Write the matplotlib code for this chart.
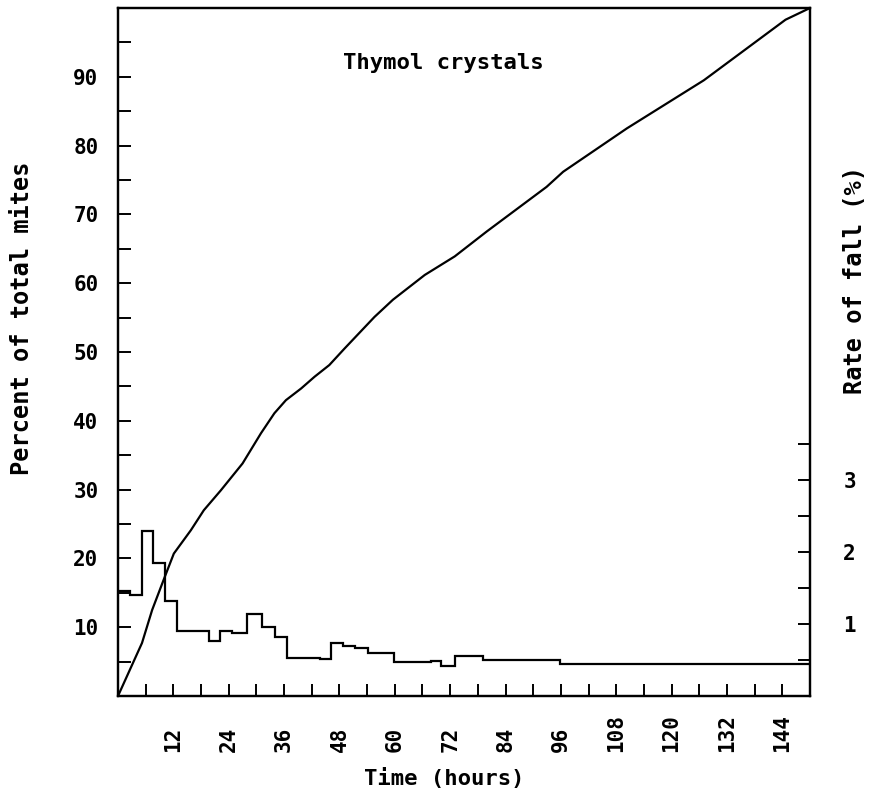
import matplotlib
matplotlib.use("Agg")
import matplotlib.pyplot as plt
import matplotlib.transforms as mtransforms
import numpy as np

# cumulative fall (percent of total mites)
cum_hours = [0, 5.2, 7.4, 9.9, 12.1, 15.8, 18.6, 22.3, 27.0, 31.0, 33.9, 36.4,
             39.7, 42.6, 45.8, 49.1, 55.6, 59.6, 66.5, 73.0, 79.9, 92.9, 96.5,
             110.3, 127.0, 144.7, 150]
cum_pct = [0, 7.7, 12.5, 16.9, 20.7, 24.1, 27.0, 29.9, 33.8, 38.2, 41.1, 43.0,
           44.7, 46.4, 48.1, 50.5, 55.1, 57.6, 61.2, 63.9, 67.5, 74.0, 76.2,
           82.5, 89.5, 98.3, 100]

# rate of fall (%), step function between sampling times
rate_edges = [0, 2.7, 5.2, 7.6, 10.1, 12.7, 19.7, 22.1, 24.7, 28.0, 31.3, 34.1,
              36.7, 43.7, 46.2, 48.7, 51.3, 54.1, 59.9, 67.9, 70.1, 73.0, 79.1,
              95.8, 150]
rate_vals = [1.46, 1.40, 2.29, 1.84, 1.32, 0.90, 0.76, 0.90, 0.875, 1.14, 0.96,
             0.82, 0.53, 0.51, 0.73, 0.70, 0.67, 0.60, 0.47, 0.49, 0.41, 0.56,
             0.50, 0.44]

x_labels = [12, 24, 36, 48, 60, 72, 84, 96, 108, 120, 132, 144]
left_labels = [10, 20, 30, 40, 50, 60, 70, 80, 90]
right_labels = [1, 2, 3]

font = "DejaVu Sans Mono"
fs = 15

fig = plt.figure(figsize=(8.75, 7.91), dpi=100)
ax = fig.add_axes([118 / 875, 1 - 696 / 791, 692 / 875, 688 / 791])
ax.set_xlim(0, 150)
ax.set_ylim(0, 100)

ax.plot(cum_hours, cum_pct, color="black", lw=1.6)

ax2 = ax.twinx()
ax2.set_ylim(0, 9.55)
ax2.stairs(rate_vals, rate_edges, baseline=None, color="black", lw=1.6)

for sp in list(ax.spines.values()) + list(ax2.spines.values()):
    sp.set_linewidth(1.6)

# left axis
ax.set_yticks(np.arange(5, 100, 5))
ax.set_yticklabels([str(v) if v in left_labels else "" for v in np.arange(5, 100, 5)],
                   fontfamily=font, fontsize=fs, fontweight="bold")
ax.tick_params(axis="y", direction="in", length=9, width=1.4, pad=14)

# bottom axis: ticks every 6 h, labels rotated
ax.set_xticks(np.arange(6, 150, 6))
ax.set_xticklabels([])
ax.tick_params(axis="x", direction="in", length=9, width=1.4)
trans = mtransforms.blended_transform_factory(ax.transData, fig.transFigure)
for h in x_labels:
    ax.text(h, 1 - 752 / 791, str(h), rotation=90, ha="center", va="bottom",
            fontfamily=font, fontsize=fs, fontweight="bold", transform=trans)

# right axis (rate)
rt = np.arange(0.5, 3.6, 0.5)
ax2.set_yticks(rt)
ax2.set_yticklabels([str(int(v)) if v in right_labels else "" for v in rt],
                    fontfamily=font, fontsize=fs, fontweight="bold")
ax2.tick_params(axis="y", direction="in", length=9, width=1.4, pad=24)

ax.text(70.6, 92, "Thymol crystals", ha="center", va="center",
        fontfamily=font, fontsize=16, fontweight="bold")

fig.text(444 / 875, 1 - 778 / 791, "Time (hours)", ha="center", va="center",
         fontfamily=font, fontsize=16, fontweight="bold")
fig.text(22 / 875, 1 - 318 / 791, "Percent of total mites", rotation=90,
         ha="center", va="center", fontfamily=font, fontsize=17, fontweight="bold")
fig.text(855 / 875, 1 - 280 / 791, "Rate of fall (%)", rotation=90,
         ha="center", va="center", fontfamily=font, fontsize=17, fontweight="bold")

fig.savefig("out.png", dpi=100)
